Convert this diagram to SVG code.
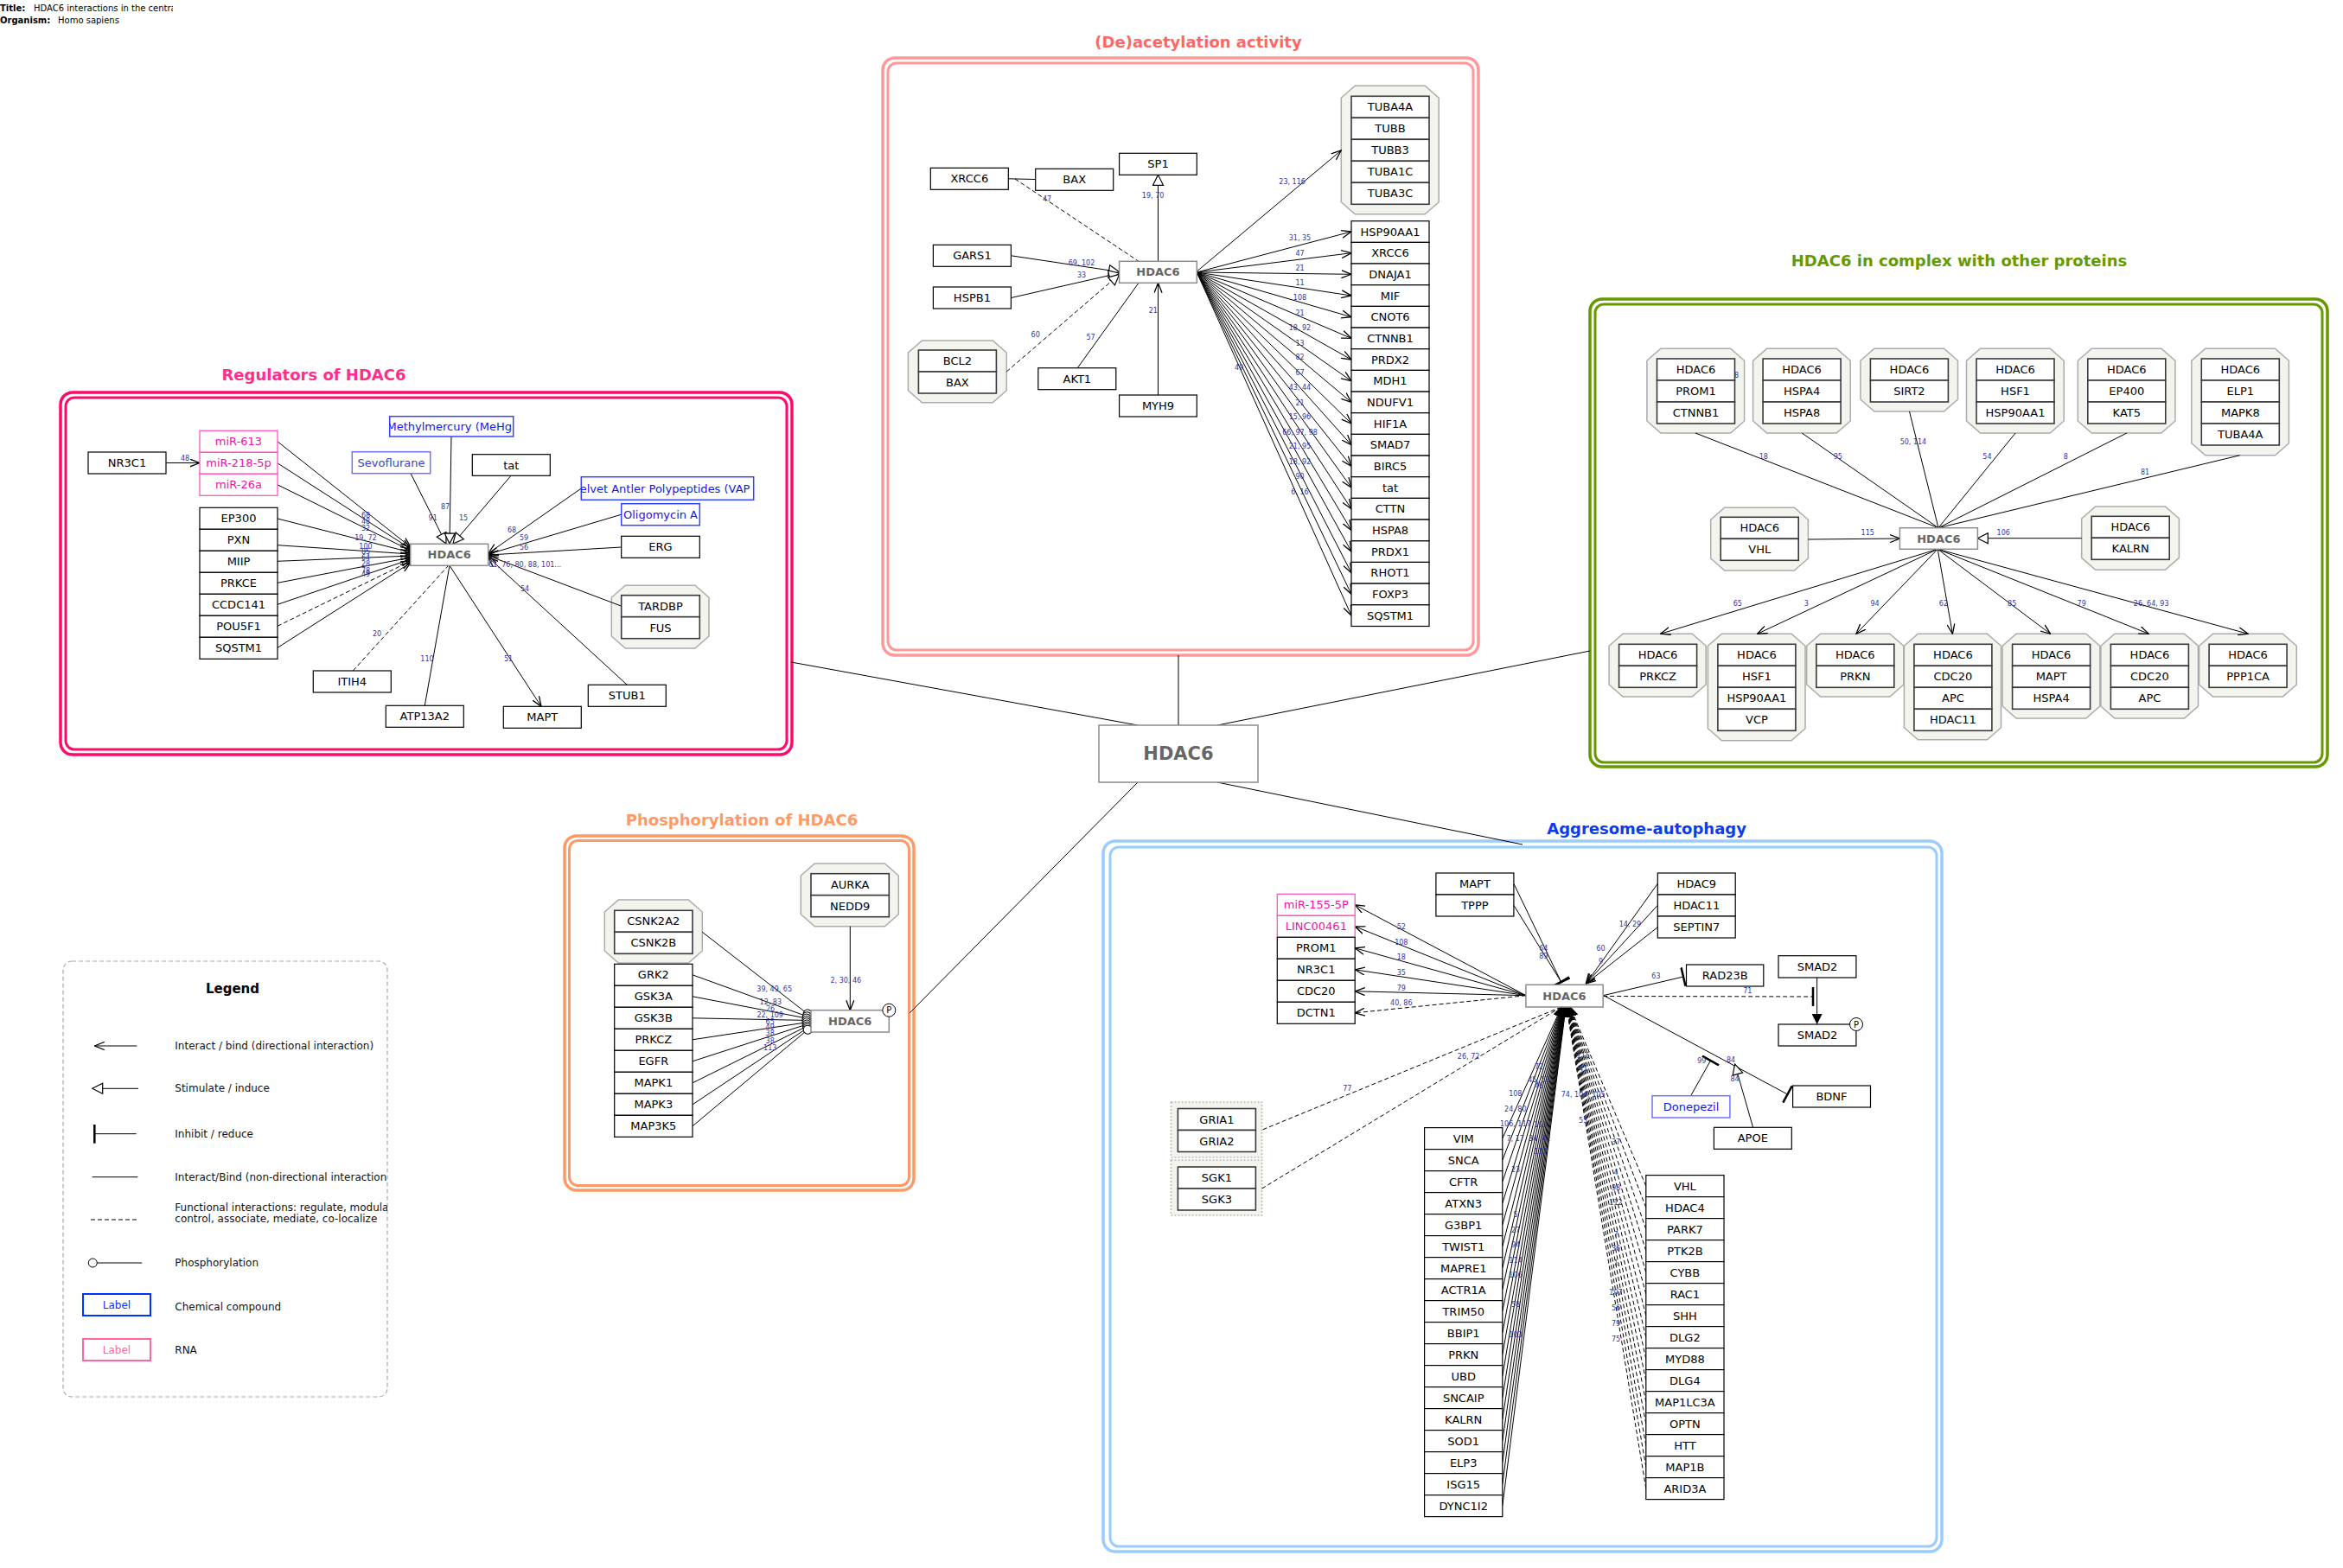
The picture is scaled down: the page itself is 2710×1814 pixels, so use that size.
<svg xmlns="http://www.w3.org/2000/svg" width="2710" height="1814" viewBox="0 0 2710 1814">
<defs>
<style>
text{font-family:'DejaVu Sans',sans-serif}
.t{font-size:13px;fill:#000;text-anchor:middle;dominant-baseline:central}
.hb{font-weight:bold;fill:#666}
.lb{font-size:8px;fill:#3535A0;text-anchor:middle;dominant-baseline:central}
.n{fill:#fff;stroke:#000;stroke-width:1.2}
.m{fill:#fff;stroke:#3A3A3A;stroke-width:1.6}
.h{fill:#fff;stroke:#8C8C8C;stroke-width:1.5}
.rna{fill:#fff;stroke:#FF55C4;stroke-width:1.3}
.rt{fill:#EE11A8}
.chem{fill:#fff;stroke:#3344FF;stroke-width:1.5}
.chl{fill:#fff;stroke:#7070FF;stroke-width:1.5}
.ct{fill:#1515E6}
.cl{fill:#4040D0}
.oct{fill:#F4F4EE;stroke:#ABABAB;stroke-width:1.5}
.grp{fill:#F4F4EE;stroke:#BBBBBB;stroke-width:1.5;stroke-dasharray:2,2}
.e{fill:none;stroke:#000;stroke-width:1}
.d{stroke-dasharray:5,3}
.pt{font-size:18px;font-weight:bold;text-anchor:middle}
.lg{font-size:12px;fill:#111;dominant-baseline:central}
.ar{marker-end:url(#arr)}
.st{marker-end:url(#stim)}
.ih{marker-end:url(#inh)}
.ph{marker-end:url(#phos)}
.start{text-anchor:start}
.pp{font-size:10px}
</style>
<marker id="arr" viewBox="0 0 12 10" refX="11.5" refY="5" markerWidth="12" markerHeight="10" markerUnits="userSpaceOnUse" orient="auto"><path d="M0,0.5 L11.5,5 L0,9.5" fill="none" stroke="#000" stroke-width="1.3"/></marker>
<marker id="stim" viewBox="0 0 14 14" refX="13" refY="7" markerWidth="14" markerHeight="14" markerUnits="userSpaceOnUse" orient="auto"><path d="M1,1 L13,7 L1,13 Z" fill="#fff" stroke="#000" stroke-width="1.2"/></marker>
<marker id="inh" viewBox="0 0 4 22" refX="2" refY="11" markerWidth="4" markerHeight="22" markerUnits="userSpaceOnUse" orient="auto"><path d="M2,0 V22" stroke="#000" stroke-width="2.5"/></marker>
<marker id="phos" viewBox="0 0 12 12" refX="11" refY="6" markerWidth="12" markerHeight="12" markerUnits="userSpaceOnUse" orient="auto"><circle cx="6" cy="6" r="5" fill="#fff" stroke="#000" stroke-width="1"/></marker>
<marker id="conv" viewBox="0 0 12 12" refX="12" refY="6" markerWidth="12" markerHeight="12" markerUnits="userSpaceOnUse" orient="auto"><path d="M0,0 L12,6 L0,12 Z" fill="#000"/></marker>
<clipPath id="clipTitle"><rect x="0" y="0" width="200" height="40"/></clipPath>
<clipPath id="clipMeHg"><rect x="450.7" y="481.7" width="143" height="23.3"/></clipPath>
<clipPath id="clipVAP"><rect x="672.3" y="551.7" width="199.4" height="26.6"/></clipPath>
<clipPath id="clipLegend"><rect x="73" y="1112" width="375" height="504"/></clipPath>
</defs>
<rect width="2710" height="1814" fill="#fff"/>

<!-- header -->
<g id="header" clip-path="url(#clipTitle)" font-size="10">
<text x="0" y="13" font-weight="bold">Title:</text>
<text x="39" y="13">HDAC6 interactions in the centra</text>
<text x="0" y="27" font-weight="bold">Organism:</text>
<text x="67" y="27">Homo sapiens</text>
</g>

<!-- panel frames -->
<g id="panels" fill="none">
<g id="panel-regulators">
<rect x="70" y="454" width="846" height="419" rx="14" stroke="#FF0A6A" stroke-width="3.5"/>
<rect x="76" y="460" width="834" height="407" rx="10" stroke="#FF0A6A" stroke-width="3"/>
<text class="pt" x="363" y="440" fill="#FF2D8C">Regulators of HDAC6</text>
</g>
<g id="panel-deacetylation">
<rect x="1021" y="67" width="689" height="691" rx="14" stroke="#FF9999" stroke-width="3.5"/>
<rect x="1027" y="73" width="677" height="679" rx="10" stroke="#FF9999" stroke-width="3"/>
<text class="pt" x="1386" y="55" fill="#FF6666">(De)acetylation activity</text>
</g>
<g id="panel-complex">
<rect x="1839" y="346" width="853" height="541" rx="14" stroke="#669900" stroke-width="3.5"/>
<rect x="1845" y="352" width="841" height="530" rx="10" stroke="#669900" stroke-width="3"/>
<text class="pt" x="2266" y="308" fill="#669900">HDAC6 in complex with other proteins</text>
</g>
<g id="panel-phosphorylation">
<rect x="653" y="967" width="404" height="410" rx="14" stroke="#FF9966" stroke-width="3.5"/>
<rect x="658.5" y="972.5" width="393" height="399" rx="10" stroke="#FF9966" stroke-width="3"/>
<text class="pt" x="858" y="955" fill="#FF9966">Phosphorylation of HDAC6</text>
</g>
<g id="panel-aggresome">
<rect x="1276" y="973" width="970" height="822" rx="14" stroke="#99CCFF" stroke-width="3.5"/>
<rect x="1284" y="980" width="956" height="809" rx="10" stroke="#99CCFF" stroke-width="3"/>
<text class="pt" x="1904.6" y="965" fill="#0A3CF0">Aggresome-autophagy</text>
</g>
</g>

<!-- group backgrounds (complexes) -->
<g id="complexes">
<polygon id="cx-tardbp-fus" class="oct" points="723.3,677.3 804,677.3 820,691.3 820,736 804,750 723.3,750 707.3,736 707.3,691.3"/>
<polygon id="cx-tubulins" class="oct" points="1567.3,99.3 1648.2,99.3 1664.2,113.3 1664.2,233.7 1648.2,247.7 1567.3,247.7 1551.3,233.7 1551.3,113.3"/>
<polygon id="cx-bcl2-bax" class="oct" points="1066.4,394 1148.2,394 1164.2,408 1164.2,451.7 1148.2,465.7 1066.4,465.7 1050.4,451.7 1050.4,408"/>
<polygon id="cx-t1" class="oct" points="1920.9,403.3 2001.6,403.3 2017.6,417.3 2017.6,487 2001.6,501 1920.9,501 1904.9,487 1904.9,417.3"/>
<polygon id="cx-t2" class="oct" points="2043.6,403.3 2124.2,403.3 2140.2,417.3 2140.2,487 2124.2,501 2043.6,501 2027.6,487 2027.6,417.3"/>
<polygon id="cx-t3" class="oct" points="2167.9,403.3 2248.5,403.3 2264.5,417.3 2264.5,462 2248.5,476 2167.9,476 2151.9,462 2151.9,417.3"/>
<polygon id="cx-t4" class="oct" points="2290.5,403.3 2371.2,403.3 2387.2,417.3 2387.2,487 2371.2,501 2290.5,501 2274.5,487 2274.5,417.3"/>
<polygon id="cx-t5" class="oct" points="2419.3,403.3 2499.9,403.3 2515.9,417.3 2515.9,487 2499.9,501 2419.3,501 2403.3,487 2403.3,417.3"/>
<polygon id="cx-t6" class="oct" points="2550.8,403.3 2631.4,403.3 2647.4,417.3 2647.4,512.7 2631.4,526.7 2550.8,526.7 2534.8,512.7 2534.8,417.3"/>
<polygon id="cx-vhl" class="oct" points="1994.7,587.3 2075.4,587.3 2091.4,601.3 2091.4,646 2075.4,660 1994.7,660 1978.7,646 1978.7,601.3"/>
<polygon id="cx-kalrn" class="oct" points="2423.7,586 2504.4,586 2520.4,600 2520.4,645.3 2504.4,659.3 2423.7,659.3 2407.7,645.3 2407.7,600"/>
<polygon id="cx-b1" class="oct" points="1877.1,733.3 1957.2,733.3 1973.2,747.3 1973.2,792 1957.2,806 1877.1,806 1861.1,792 1861.1,747.3"/>
<polygon id="cx-b2" class="oct" points="1991.4,733.3 2072,733.3 2088,747.3 2088,842.7 2072,856.7 1991.4,856.7 1975.4,842.7 1975.4,747.3"/>
<polygon id="cx-b3" class="oct" points="2105.7,733.3 2185.8,733.3 2201.8,747.3 2201.8,792 2185.8,806 2105.7,806 2089.7,792 2089.7,747.3"/>
<polygon id="cx-b4" class="oct" points="2218.4,733.3 2298.5,733.3 2314.5,747.3 2314.5,841.7 2298.5,855.7 2218.4,855.7 2202.4,841.7 2202.4,747.3"/>
<polygon id="cx-b5" class="oct" points="2332.1,733.3 2412.8,733.3 2428.8,747.3 2428.8,817 2412.8,831 2332.1,831 2316.1,817 2316.1,747.3"/>
<polygon id="cx-b6" class="oct" points="2445.9,733.3 2526.5,733.3 2542.5,747.3 2542.5,817 2526.5,831 2445.9,831 2429.9,817 2429.9,747.3"/>
<polygon id="cx-b7" class="oct" points="2559.6,733.3 2640.3,733.3 2656.3,747.3 2656.3,792 2640.3,806 2559.6,806 2543.6,792 2543.6,747.3"/>
<polygon id="cx-csnk2" class="oct" points="715.3,1041 796.3,1041 812.3,1055 812.3,1100 796.3,1114 715.3,1114 699.3,1100 699.3,1055"/>
<polygon id="cx-aurka" class="oct" points="942.3,999 1023.3,999 1039.3,1013 1039.3,1057.7 1023.3,1071.7 942.3,1071.7 926.3,1057.7 926.3,1013"/>
<rect id="grp-gria" class="grp" x="1354.5" y="1275" width="105" height="64"/>
<rect id="grp-sgk" class="grp" x="1354.5" y="1342" width="105" height="64"/>
</g>

<!-- connectors -->
<g id="connectors">
<!-- hub to panels -->
<g id="e-hub">
<path class="e" d="M915,766 L1316,839"/>
<path class="e" d="M1363,758 L1363,839"/>
<path class="e" d="M1839,753 L1408,839"/>
<path class="e" d="M1052,1172 L1316,905"/>
<path class="e" d="M1761,977 L1408,905"/>
</g>
<!-- regulators -->
<g id="e-regulators">
<path class="e ar" d="M192,535.5 L231,535.5"/>
<path class="e ar" d="M321,510.8 L475,633"/>
<path class="e ar" d="M321,535.8 L475,635"/>
<path class="e ar" d="M321,560.8 L475,637"/>
<path class="e ar" d="M321,600 L475,639"/>
<path class="e ar" d="M321,630.7 L475,641"/>
<path class="e ar" d="M321,649.3 L475,643"/>
<path class="e ar" d="M321,674.3 L475,645"/>
<path class="e ar" d="M321,699.3 L475,647"/>
<path class="e d ar" d="M321,724.3 L475,649"/>
<path class="e ar" d="M321,749.3 L475,651"/>
<path class="e st" d="M475,547.7 L516,629"/>
<path class="e st" d="M522,505 L520,629"/>
<path class="e st" d="M591,550.3 L524,629"/>
<path class="e ar" d="M672.3,565 L565,640"/>
<path class="e ar" d="M718.7,595.2 L565,641"/>
<path class="e ar" d="M718.7,633 L565,642"/>
<path class="e ar" d="M718.7,701.2 L565,643"/>
<path class="e ar" d="M725.3,792.3 L565,645"/>
<path class="e ar" d="M520,654.3 L626,817.3"/>
<path class="e" d="M491.3,816.3 L520,654.3"/>
<path class="e d" d="M408.3,776 L518,655"/>
<text class="lb" x="214" y="530">48</text>
<text class="lb" x="423" y="596">68</text>
<text class="lb" x="423" y="603.3">48</text>
<text class="lb" x="423" y="611">32</text>
<text class="lb" x="423" y="622.7">19, 72</text>
<text class="lb" x="423" y="632">100</text>
<text class="lb" x="423" y="638.3">85</text>
<text class="lb" x="423" y="645">64</text>
<text class="lb" x="423" y="652.7">28</text>
<text class="lb" x="423" y="660">78</text>
<text class="lb" x="423" y="664.5">49</text>
<text class="lb" x="500.7" y="599">91</text>
<text class="lb" x="515" y="586">87</text>
<text class="lb" x="536" y="599">15</text>
<text class="lb" x="592" y="613">68</text>
<text class="lb" x="606" y="622">59</text>
<text class="lb" x="606" y="633">56</text>
<text class="lb start" x="565" y="653">61, 76, 80, 88, 101...</text>
<text class="lb" x="607" y="681">54</text>
<text class="lb" x="588" y="762">51</text>
<text class="lb" x="494" y="762">110</text>
<text class="lb" x="436" y="733">20</text>
</g>
<!-- deacetylation -->
<g id="e-deacetylation">
<path class="e" d="M1166.4,206.8 L1197.7,207.5"/>
<path class="e d" d="M1174,207 L1317,302.3"/>
<path class="e st" d="M1339.5,302.3 L1339.5,202.3"/>
<path class="e st" d="M1169.6,295.8 L1294.6,314.5"/>
<path class="e st" d="M1169.6,344.5 L1294.6,316"/>
<path class="e d st" d="M1164.2,430 L1294.6,317.5"/>
<path class="e" d="M1246.3,425.7 L1317,327.3"/>
<path class="e ar" d="M1339.5,457 L1339.5,327.3"/>
<path class="e ar" d="M1384.3,314 L1551.3,174"/>
<path class="e ar" d="M1384.3,315 L1563,268"/>
<path class="e ar" d="M1384.3,315 L1563,292.7"/>
<path class="e ar" d="M1384.3,315 L1563,317.3"/>
<path class="e ar" d="M1384.3,315 L1563,342"/>
<path class="e ar" d="M1384.3,315 L1563,366.7"/>
<path class="e ar" d="M1384.3,315 L1563,391.4"/>
<path class="e ar" d="M1384.3,315 L1563,416"/>
<path class="e ar" d="M1384.3,315 L1563,440.7"/>
<path class="e ar" d="M1384.3,315 L1563,465.4"/>
<path class="e ar" d="M1384.3,315 L1563,490"/>
<path class="e ar" d="M1384.3,315 L1563,514.7"/>
<path class="e ar" d="M1384.3,315 L1563,539.4"/>
<path class="e ar" d="M1384.3,315 L1563,564"/>
<path class="e ar" d="M1384.3,315 L1563,588.7"/>
<path class="e ar" d="M1384.3,315 L1563,613.4"/>
<path class="e ar" d="M1384.3,315 L1563,638.1"/>
<path class="e ar" d="M1384.3,315 L1563,662.7"/>
<path class="e ar" d="M1384.3,315 L1563,687.4"/>
<path class="e ar" d="M1384.3,315 L1563,712.1"/>
<text class="lb" x="1211" y="230">47</text>
<text class="lb" x="1333.6" y="226">19, 70</text>
<text class="lb" x="1251" y="304">69, 102</text>
<text class="lb" x="1251" y="318.3">33</text>
<text class="lb" x="1197.7" y="387">60</text>
<text class="lb" x="1261.5" y="390">57</text>
<text class="lb" x="1333.8" y="359">21</text>
<text class="lb" x="1494.6" y="210">23, 116</text>
<text class="lb" x="1503.5" y="275.7">31, 35</text>
<text class="lb" x="1503.5" y="293.3">47</text>
<text class="lb" x="1503.5" y="310">21</text>
<text class="lb" x="1503.5" y="327.7">11</text>
<text class="lb" x="1503.5" y="344.7">108</text>
<text class="lb" x="1503.5" y="362.3">21</text>
<text class="lb" x="1503.5" y="379">18, 92</text>
<text class="lb" x="1503.5" y="397">13</text>
<text class="lb" x="1503.5" y="413.7">82</text>
<text class="lb" x="1503.5" y="431.3">67</text>
<text class="lb" x="1503.5" y="448">43, 44</text>
<text class="lb" x="1503.5" y="466">21</text>
<text class="lb" x="1503.5" y="482.7">15, 96</text>
<text class="lb" x="1503.5" y="500.3">66, 97, 98</text>
<text class="lb" x="1503.5" y="516.7">21, 95</text>
<text class="lb" x="1503.5" y="534.7">18, 92</text>
<text class="lb" x="1503.5" y="551.7">90</text>
<text class="lb" x="1503.5" y="569.3">6, 16</text>
<text class="lb" x="1433" y="425.3">49</text>
</g>
<!-- complexes -->
<g id="e-complex">
<path class="e" d="M1961,501 L2242,610.7"/>
<path class="e" d="M2084.2,501 L2242,610.7"/>
<path class="e" d="M2208.5,476 L2242,610.7"/>
<path class="e" d="M2331.1,501 L2242,610.7"/>
<path class="e" d="M2459.9,501 L2242,610.7"/>
<path class="e" d="M2590.8,526.7 L2242,610.7"/>
<path class="e ar" d="M2091.4,624 L2197.4,623"/>
<path class="e st" d="M2407.7,622.7 L2287.3,622.7"/>
<path class="e ar" d="M2241.2,635.3 L1920.5,733.3"/>
<path class="e ar" d="M2241.2,635.3 L2032.6,733.3"/>
<path class="e ar" d="M2241.2,635.3 L2146.9,733.3"/>
<path class="e ar" d="M2241.2,635.3 L2258.4,733.3"/>
<path class="e ar" d="M2241.2,635.3 L2371.6,733.3"/>
<path class="e ar" d="M2241.2,635.3 L2485.4,733.3"/>
<path class="e ar" d="M2241.2,635.3 L2600.3,733.3"/>
<text class="lb" x="2008.5" y="434">8</text>
<text class="lb" x="2039.8" y="528.3">18</text>
<text class="lb" x="2125.8" y="528.3">95</text>
<text class="lb" x="2212.9" y="511">50, 114</text>
<text class="lb" x="2298.4" y="528.3">54</text>
<text class="lb" x="2389.4" y="528.3">8</text>
<text class="lb" x="2481" y="546">81</text>
<text class="lb" x="2160.2" y="616.7">115</text>
<text class="lb" x="2317.2" y="616.7">106</text>
<text class="lb" x="2009.8" y="698.3">65</text>
<text class="lb" x="2089.2" y="698.3">3</text>
<text class="lb" x="2168.5" y="698.3">94</text>
<text class="lb" x="2247.9" y="698.3">62</text>
<text class="lb" x="2327.2" y="698.3">85</text>
<text class="lb" x="2407.7" y="698.3">79</text>
<text class="lb" x="2488.2" y="698.3">26, 64, 93</text>
</g>
<!-- phosphorylation -->
<g id="e-phosphorylation">
<path class="e ph" d="M812.3,1078.3 L938,1176"/>
<path class="e ph" d="M801,1127.8 L938,1177.5"/>
<path class="e ph" d="M801,1152.8 L938,1179"/>
<path class="e ph" d="M801,1177.8 L938,1180.5"/>
<path class="e ph" d="M801,1202.8 L938,1182"/>
<path class="e ph" d="M801,1227.8 L938,1183.5"/>
<path class="e ph" d="M801,1252.8 L938,1185"/>
<path class="e ph" d="M801,1277.8 L938,1186.5"/>
<path class="e ph" d="M801,1302.8 L938,1188"/>
<path class="e ar" d="M983.3,1071.7 L983.3,1168.7"/>
<text class="lb" x="895.7" y="1144">39, 49, 65</text>
<text class="lb" x="891.3" y="1159">12, 83</text>
<text class="lb" x="891" y="1167">26</text>
<text class="lb" x="890.7" y="1174">22, 109</text>
<text class="lb" x="890.7" y="1182">65</text>
<text class="lb" x="890.7" y="1188.3">49</text>
<text class="lb" x="890.7" y="1195">38</text>
<text class="lb" x="890.7" y="1204">38</text>
<text class="lb" x="890.7" y="1212">113</text>
<text class="lb" x="978.3" y="1134">2, 30, 46</text>
</g>
<!-- aggresome -->
<g id="e-aggresome">
<path class="e ar" d="M1765,1151.7 L1567.2,1046.8"/>
<path class="e ar" d="M1765,1151.7 L1567.2,1071.8"/>
<path class="e ar" d="M1765,1151.7 L1567.2,1096.8"/>
<path class="e ar" d="M1765,1151.7 L1567.2,1121.8"/>
<path class="e ar" d="M1765,1151.7 L1567.2,1146.8"/>
<path class="e d ar" d="M1765,1151.7 L1567.2,1171.8"/>
<path class="e ih" d="M1750.9,1022.3 L1805.7,1136"/>
<path class="e ih" d="M1750.9,1047.3 L1805.7,1136"/>
<path class="e ar" d="M1917.3,1022.3 L1834.4,1138"/>
<path class="e ar" d="M1917.3,1047.3 L1834.4,1138"/>
<path class="e ar" d="M1917.3,1072.7 L1834.4,1138"/>
<path class="e ih" d="M1854.2,1151.7 L1947,1130"/>
<path class="e d ih" d="M1854.2,1152.5 L2097,1153"/>
<path class="e" style="marker-end:url(#conv)" d="M2101.6,1131 L2101.6,1185"/>
<path class="e ih" d="M1856.7,1152.7 L2067.5,1266"/>
<path class="e ih" d="M1955.6,1267.7 L1978.5,1227"/>
<path class="e st" d="M2027.6,1304.3 L2006.6,1231"/>
<path class="e d" d="M1805.7,1165 L1459.4,1307.3"/>
<path class="e d" d="M1805.7,1165 L1459.6,1375"/>
<path class="e ar" d="M1737.8,1317.1 L1806,1165"/>
<path class="e ar" d="M1737.8,1342.1 L1806.3,1165"/>
<path class="e ar" d="M1737.8,1367.1 L1806.6,1165"/>
<path class="e ar" d="M1737.8,1392.1 L1806.9,1165"/>
<path class="e ar" d="M1737.8,1417.1 L1807.2,1165"/>
<path class="e ar" d="M1737.8,1442.1 L1807.5,1165"/>
<path class="e ar" d="M1737.8,1467.1 L1807.8,1165"/>
<path class="e ar" d="M1737.8,1492.1 L1808.1,1165"/>
<path class="e ar" d="M1737.8,1517.1 L1808.4,1165"/>
<path class="e ar" d="M1737.8,1542.1 L1808.7,1165"/>
<path class="e ar" d="M1737.8,1567.1 L1809,1165"/>
<path class="e ar" d="M1737.8,1592.1 L1809.3,1165"/>
<path class="e ar" d="M1737.8,1617.1 L1809.6,1165"/>
<path class="e ar" d="M1737.8,1642.1 L1809.9,1165"/>
<path class="e ar" d="M1737.8,1667.1 L1810.2,1165"/>
<path class="e ar" d="M1737.8,1692.1 L1810.5,1165"/>
<path class="e ar" d="M1737.8,1717.1 L1810.8,1165"/>
<path class="e ar" d="M1737.8,1742.1 L1811.1,1165"/>
<path class="e d ar" d="M1903.8,1372.1 L1816,1165"/>
<path class="e d ar" d="M1903.8,1397.1 L1815.7,1165"/>
<path class="e d ar" d="M1903.8,1422.1 L1815.4,1165"/>
<path class="e d ar" d="M1903.8,1447.1 L1815.1,1165"/>
<path class="e d ar" d="M1903.8,1472.1 L1814.8,1165"/>
<path class="e d ar" d="M1903.8,1497.1 L1814.5,1165"/>
<path class="e d ar" d="M1903.8,1522.1 L1814.2,1165"/>
<path class="e d ar" d="M1903.8,1547.1 L1813.9,1165"/>
<path class="e d ar" d="M1903.8,1572.1 L1813.6,1165"/>
<path class="e d ar" d="M1903.8,1597.1 L1813.3,1165"/>
<path class="e d ar" d="M1903.8,1622.1 L1813,1165"/>
<path class="e d ar" d="M1903.8,1647.1 L1812.7,1165"/>
<path class="e d ar" d="M1903.8,1672.1 L1812.4,1165"/>
<path class="e d ar" d="M1903.8,1697.1 L1812.1,1165"/>
<path class="e d ar" d="M1903.8,1722.1 L1811.8,1165"/>
<text class="lb" x="1620.8" y="1072.3">52</text>
<text class="lb" x="1620.8" y="1090.3">108</text>
<text class="lb" x="1620.8" y="1107">18</text>
<text class="lb" x="1620.8" y="1125.3">35</text>
<text class="lb" x="1620.8" y="1143">79</text>
<text class="lb" x="1620.8" y="1160">40, 86</text>
<text class="lb" x="1785.3" y="1097.7">64</text>
<text class="lb" x="1785.3" y="1106">89</text>
<text class="lb" x="1885.4" y="1069">14, 29</text>
<text class="lb" x="1851.6" y="1097.7">60</text>
<text class="lb" x="1851.6" y="1112.7">9</text>
<text class="lb" x="1915.4" y="1129">63</text>
<text class="lb" x="2021.3" y="1146">71</text>
<text class="lb" x="1968.3" y="1227.7">99</text>
<text class="lb" x="2002" y="1226.7">84</text>
<text class="lb" x="2006.6" y="1248.3">84</text>
<text class="lb" x="1558.3" y="1259.3">77</text>
<text class="lb" x="1698.6" y="1222.3">26, 72</text>
<text class="lb" x="1780" y="1234">72</text>
<text class="lb" x="1780" y="1249">45, 53</text>
<text class="lb" x="1780" y="1256.7">46</text>
<text class="lb" x="1752.8" y="1265">108</text>
<text class="lb" x="1752.8" y="1283">24, 80</text>
<text class="lb" x="1752.8" y="1300">106, 117</text>
<text class="lb" x="1782" y="1301.8">105</text>
<text class="lb" x="1768" y="1317">7, 17, 34, 42</text>
<text class="lb" x="1782" y="1332.7">117</text>
<text class="lb" x="1753" y="1353.6">23</text>
<text class="lb" x="1753" y="1405.4">5</text>
<text class="lb" x="1753" y="1423.2">27</text>
<text class="lb" x="1753" y="1440">94</text>
<text class="lb" x="1753" y="1458.2">114</text>
<text class="lb" x="1753" y="1475">106</text>
<text class="lb" x="1753" y="1509.6">58</text>
<text class="lb" x="1753" y="1544.6">103</text>
<text class="lb" x="1831.2" y="1221">115</text>
<text class="lb" x="1831.2" y="1236">41</text>
<text class="lb" x="1831.2" y="1266">74, 104, 105</text>
<text class="lb" x="1831.2" y="1296">55</text>
<text class="lb" x="1869" y="1321">37</text>
<text class="lb" x="1869" y="1356">4</text>
<text class="lb" x="1869" y="1374">98</text>
<text class="lb" x="1869" y="1391">112</text>
<text class="lb" x="1869" y="1428.6">7</text>
<text class="lb" x="1869" y="1444.6">36</text>
<text class="lb" x="1869" y="1461.4">1</text>
<text class="lb" x="1869" y="1495.7">107</text>
<text class="lb" x="1869" y="1513.6">56</text>
<text class="lb" x="1869" y="1531">79</text>
<text class="lb" x="1869" y="1549">75</text>
</g>
</g>

<!-- central hub -->
<g id="hub-hdac6">
<rect class="h" x="1271" y="839" width="184" height="66"/>
<text class="t hb" x="1363" y="872" style="font-size:21px">HDAC6</text>
</g>

<!-- regulators nodes -->
<g id="reg-nodes">
<g id="r-nr3c1"><rect class="n" x="102" y="523" width="90" height="25"/><text class="t" x="147" y="535.5">NR3C1</text></g>
<g id="r-mir613"><rect class="rna" x="231" y="498.3" width="90" height="25"/><text class="t rt" x="276" y="510.8">miR-613</text></g>
<g id="r-mir218"><rect class="rna" x="231" y="523.3" width="90" height="25"/><text class="t rt" x="276" y="535.8">miR-218-5p</text></g>
<g id="r-mir26a"><rect class="rna" x="231" y="548.3" width="90" height="25"/><text class="t rt" x="276" y="560.8">miR-26a</text></g>
<g id="r-ep300"><rect class="n" x="231" y="587.3" width="90" height="25"/><text class="t" x="276" y="599.8">EP300</text></g>
<g id="r-pxn"><rect class="n" x="231" y="612.3" width="90" height="25"/><text class="t" x="276" y="624.8">PXN</text></g>
<g id="r-miip"><rect class="n" x="231" y="637.3" width="90" height="25"/><text class="t" x="276" y="649.8">MIIP</text></g>
<g id="r-prkce"><rect class="n" x="231" y="662.3" width="90" height="25"/><text class="t" x="276" y="674.8">PRKCE</text></g>
<g id="r-ccdc141"><rect class="n" x="231" y="687.3" width="90" height="25"/><text class="t" x="276" y="699.8">CCDC141</text></g>
<g id="r-pou5f1"><rect class="n" x="231" y="712.3" width="90" height="25"/><text class="t" x="276" y="724.8">POU5F1</text></g>
<g id="r-sqstm1"><rect class="n" x="231" y="737.3" width="90" height="25"/><text class="t" x="276" y="749.8">SQSTM1</text></g>
<g id="r-sevo"><rect class="chl" x="407.3" y="522.7" width="90.4" height="25"/><text class="t cl" x="452.5" y="535.2">Sevoflurane</text></g>
<g id="r-mehg"><rect class="chem" x="450.7" y="481.7" width="143" height="23.3"/><text class="t ct start" x="447.5" y="493.3" clip-path="url(#clipMeHg)">Methylmercury (MeHg</text></g>
<g id="r-tat"><rect class="n" x="546.3" y="525.7" width="90" height="24.6"/><text class="t" x="591.3" y="538">tat</text></g>
<g id="r-vap"><rect class="chem" x="672.3" y="551.7" width="199.4" height="26.6"/><text class="t ct start" x="662.8" y="565" clip-path="url(#clipVAP)">Velvet Antler Polypeptides (VAP</text></g>
<g id="r-oligo"><rect class="chem" x="718.7" y="582.7" width="90.6" height="25"/><text class="t ct" x="764" y="595.2">Oligomycin A</text></g>
<g id="r-erg"><rect class="n" x="718.7" y="620.3" width="90.6" height="25"/><text class="t" x="764" y="632.8">ERG</text></g>
<g id="r-tardbp"><rect class="m" x="718.7" y="688.7" width="90.6" height="25"/><text class="t" x="764" y="701.2">TARDBP</text></g>
<g id="r-fus"><rect class="m" x="718.7" y="713.7" width="90.6" height="25"/><text class="t" x="764" y="726.2">FUS</text></g>
<g id="r-stub1"><rect class="n" x="680.3" y="792.3" width="90" height="25"/><text class="t" x="725.3" y="804.8">STUB1</text></g>
<g id="r-mapt"><rect class="n" x="582.3" y="817.3" width="90" height="25"/><text class="t" x="627.3" y="829.8">MAPT</text></g>
<g id="r-atp13a2"><rect class="n" x="446.3" y="816.3" width="90" height="25"/><text class="t" x="491.3" y="828.8">ATP13A2</text></g>
<g id="r-itih4"><rect class="n" x="362.3" y="776" width="90" height="25"/><text class="t" x="407.3" y="788.5">ITIH4</text></g>
<g id="r-hdac6"><rect class="h" x="474.7" y="629.3" width="90" height="25"/><text class="t hb" x="519.7" y="641.8">HDAC6</text></g>
</g>

<!-- deacetylation nodes -->
<g id="dea-nodes">
<g id="d-xrcc6"><rect class="n" x="1076.3" y="194.3" width="90" height="25"/><text class="t" x="1121.3" y="206.8">XRCC6</text></g>
<g id="d-bax"><rect class="n" x="1197.7" y="195.3" width="90" height="25"/><text class="t" x="1242.7" y="207.8">BAX</text></g>
<g id="d-sp1"><rect class="n" x="1294.6" y="177.3" width="89.7" height="25"/><text class="t" x="1339.5" y="189.8">SP1</text></g>
<g id="d-gars1"><rect class="n" x="1079.4" y="283.3" width="90" height="25"/><text class="t" x="1124.4" y="295.8">GARS1</text></g>
<g id="d-hspb1"><rect class="n" x="1079.4" y="332" width="90" height="25"/><text class="t" x="1124.4" y="344.5">HSPB1</text></g>
<g id="d-hdac6"><rect class="h" x="1294.6" y="302.3" width="89.7" height="25"/><text class="t hb" x="1339.5" y="314.8">HDAC6</text></g>
<g id="d-akt1"><rect class="n" x="1200.8" y="425.7" width="90" height="25"/><text class="t" x="1245.8" y="438.2">AKT1</text></g>
<g id="d-myh9"><rect class="n" x="1294.6" y="457" width="89.7" height="25"/><text class="t" x="1339.5" y="469.5">MYH9</text></g>
<g id="d-bcl2"><rect class="m" x="1062.4" y="405" width="90" height="25"/><text class="t" x="1107.4" y="417.5">BCL2</text></g>
<g id="d-bax2"><rect class="m" x="1062.4" y="430" width="90" height="25"/><text class="t" x="1107.4" y="442.5">BAX</text></g>
<g id="d-tuba4a"><rect class="m" x="1563" y="111.3" width="90" height="25"/><text class="t" x="1608" y="123.8">TUBA4A</text></g>
<g id="d-tubb"><rect class="m" x="1563" y="136.3" width="90" height="25"/><text class="t" x="1608" y="148.8">TUBB</text></g>
<g id="d-tubb3"><rect class="m" x="1563" y="161.3" width="90" height="25"/><text class="t" x="1608" y="173.8">TUBB3</text></g>
<g id="d-tuba1c"><rect class="m" x="1563" y="186.3" width="90" height="25"/><text class="t" x="1608" y="198.8">TUBA1C</text></g>
<g id="d-tuba3c"><rect class="m" x="1563" y="211.3" width="90" height="25"/><text class="t" x="1608" y="223.8">TUBA3C</text></g>
<g id="d-hsp90aa1"><rect class="n" x="1563" y="255.7" width="90" height="24.7"/><text class="t" x="1608" y="268">HSP90AA1</text></g>
<g id="d-xrcc6b"><rect class="n" x="1563" y="280.4" width="90" height="24.7"/><text class="t" x="1608" y="292.7">XRCC6</text></g>
<g id="d-dnaja1"><rect class="n" x="1563" y="305" width="90" height="24.7"/><text class="t" x="1608" y="317.3">DNAJA1</text></g>
<g id="d-mif"><rect class="n" x="1563" y="329.7" width="90" height="24.7"/><text class="t" x="1608" y="342">MIF</text></g>
<g id="d-cnot6"><rect class="n" x="1563" y="354.4" width="90" height="24.7"/><text class="t" x="1608" y="366.7">CNOT6</text></g>
<g id="d-ctnnb1"><rect class="n" x="1563" y="379.1" width="90" height="24.7"/><text class="t" x="1608" y="391.4">CTNNB1</text></g>
<g id="d-prdx2"><rect class="n" x="1563" y="403.7" width="90" height="24.7"/><text class="t" x="1608" y="416">PRDX2</text></g>
<g id="d-mdh1"><rect class="n" x="1563" y="428.4" width="90" height="24.7"/><text class="t" x="1608" y="440.7">MDH1</text></g>
<g id="d-ndufv1"><rect class="n" x="1563" y="453.1" width="90" height="24.7"/><text class="t" x="1608" y="465.4">NDUFV1</text></g>
<g id="d-hif1a"><rect class="n" x="1563" y="477.7" width="90" height="24.7"/><text class="t" x="1608" y="490">HIF1A</text></g>
<g id="d-smad7"><rect class="n" x="1563" y="502.4" width="90" height="24.7"/><text class="t" x="1608" y="514.7">SMAD7</text></g>
<g id="d-birc5"><rect class="n" x="1563" y="527.1" width="90" height="24.7"/><text class="t" x="1608" y="539.4">BIRC5</text></g>
<g id="d-tat"><rect class="n" x="1563" y="551.7" width="90" height="24.7"/><text class="t" x="1608" y="564">tat</text></g>
<g id="d-cttn"><rect class="n" x="1563" y="576.4" width="90" height="24.7"/><text class="t" x="1608" y="588.7">CTTN</text></g>
<g id="d-hspa8"><rect class="n" x="1563" y="601.1" width="90" height="24.7"/><text class="t" x="1608" y="613.4">HSPA8</text></g>
<g id="d-prdx1"><rect class="n" x="1563" y="625.8" width="90" height="24.7"/><text class="t" x="1608" y="638.1">PRDX1</text></g>
<g id="d-rhot1"><rect class="n" x="1563" y="650.4" width="90" height="24.7"/><text class="t" x="1608" y="662.7">RHOT1</text></g>
<g id="d-foxp3"><rect class="n" x="1563" y="675.1" width="90" height="24.7"/><text class="t" x="1608" y="687.4">FOXP3</text></g>
<g id="d-sqstm1"><rect class="n" x="1563" y="699.8" width="90" height="24.7"/><text class="t" x="1608" y="712.1">SQSTM1</text></g>
</g>

<!-- complex nodes -->
<g id="cpx-nodes">
<g id="c-hdac6"><rect class="h" x="2197.4" y="610.7" width="90" height="24.6"/><text class="t hb" x="2242.4" y="623">HDAC6</text></g>
<g id="c1-hdac6"><rect class="m" x="1916.5" y="415" width="90" height="25"/><text class="t" x="1961.5" y="427.5">HDAC6</text></g>
<g id="c1-prom1"><rect class="m" x="1916.5" y="440" width="90" height="25"/><text class="t" x="1961.5" y="452.5">PROM1</text></g>
<g id="c1-ctnnb1"><rect class="m" x="1916.5" y="465" width="90" height="25"/><text class="t" x="1961.5" y="477.5">CTNNB1</text></g>
<g id="c2-hdac6"><rect class="m" x="2039.1" y="415" width="90" height="25"/><text class="t" x="2084.1" y="427.5">HDAC6</text></g>
<g id="c2-hspa4"><rect class="m" x="2039.1" y="440" width="90" height="25"/><text class="t" x="2084.1" y="452.5">HSPA4</text></g>
<g id="c2-hspa8"><rect class="m" x="2039.1" y="465" width="90" height="25"/><text class="t" x="2084.1" y="477.5">HSPA8</text></g>
<g id="c3-hdac6"><rect class="m" x="2163.4" y="415" width="90" height="25"/><text class="t" x="2208.4" y="427.5">HDAC6</text></g>
<g id="c3-sirt2"><rect class="m" x="2163.4" y="440" width="90" height="25"/><text class="t" x="2208.4" y="452.5">SIRT2</text></g>
<g id="c4-hdac6"><rect class="m" x="2286" y="415" width="90" height="25"/><text class="t" x="2331" y="427.5">HDAC6</text></g>
<g id="c4-hsf1"><rect class="m" x="2286" y="440" width="90" height="25"/><text class="t" x="2331" y="452.5">HSF1</text></g>
<g id="c4-hsp90aa1"><rect class="m" x="2286" y="465" width="90" height="25"/><text class="t" x="2331" y="477.5">HSP90AA1</text></g>
<g id="c5-hdac6"><rect class="m" x="2414.8" y="415" width="90" height="25"/><text class="t" x="2459.8" y="427.5">HDAC6</text></g>
<g id="c5-ep400"><rect class="m" x="2414.8" y="440" width="90" height="25"/><text class="t" x="2459.8" y="452.5">EP400</text></g>
<g id="c5-kat5"><rect class="m" x="2414.8" y="465" width="90" height="25"/><text class="t" x="2459.8" y="477.5">KAT5</text></g>
<g id="c6-hdac6"><rect class="m" x="2546.3" y="415" width="90" height="25"/><text class="t" x="2591.3" y="427.5">HDAC6</text></g>
<g id="c6-elp1"><rect class="m" x="2546.3" y="440" width="90" height="25"/><text class="t" x="2591.3" y="452.5">ELP1</text></g>
<g id="c6-mapk8"><rect class="m" x="2546.3" y="465" width="90" height="25"/><text class="t" x="2591.3" y="477.5">MAPK8</text></g>
<g id="c6-tuba4a"><rect class="m" x="2546.3" y="490" width="90" height="25"/><text class="t" x="2591.3" y="502.5">TUBA4A</text></g>
<g id="cv-hdac6"><rect class="m" x="1990.2" y="598.3" width="90" height="25"/><text class="t" x="2035.2" y="610.8">HDAC6</text></g>
<g id="cv-vhl"><rect class="m" x="1990.2" y="623.3" width="90" height="25"/><text class="t" x="2035.2" y="635.8">VHL</text></g>
<g id="ck-hdac6"><rect class="m" x="2419.2" y="597.3" width="90" height="25"/><text class="t" x="2464.2" y="609.8">HDAC6</text></g>
<g id="ck-kalrn"><rect class="m" x="2419.2" y="622.3" width="90" height="25"/><text class="t" x="2464.2" y="634.8">KALRN</text></g>
<g id="b1-hdac6"><rect class="m" x="1872.6" y="745.3" width="90" height="25"/><text class="t" x="1917.6" y="757.8">HDAC6</text></g>
<g id="b1-prkcz"><rect class="m" x="1872.6" y="770.3" width="90" height="25"/><text class="t" x="1917.6" y="782.8">PRKCZ</text></g>
<g id="b2-hdac6"><rect class="m" x="1986.9" y="745.3" width="90" height="25"/><text class="t" x="2031.9" y="757.8">HDAC6</text></g>
<g id="b2-hsf1"><rect class="m" x="1986.9" y="770.3" width="90" height="25"/><text class="t" x="2031.9" y="782.8">HSF1</text></g>
<g id="b2-hsp90aa1"><rect class="m" x="1986.9" y="795.3" width="90" height="25"/><text class="t" x="2031.9" y="807.8">HSP90AA1</text></g>
<g id="b2-vcp"><rect class="m" x="1986.9" y="820.3" width="90" height="25"/><text class="t" x="2031.9" y="832.8">VCP</text></g>
<g id="b3-hdac6"><rect class="m" x="2100.8" y="745.3" width="90" height="25"/><text class="t" x="2145.8" y="757.8">HDAC6</text></g>
<g id="b3-prkn"><rect class="m" x="2100.8" y="770.3" width="90" height="25"/><text class="t" x="2145.8" y="782.8">PRKN</text></g>
<g id="b4-hdac6"><rect class="m" x="2213.9" y="745.3" width="90" height="25"/><text class="t" x="2258.9" y="757.8">HDAC6</text></g>
<g id="b4-cdc20"><rect class="m" x="2213.9" y="770.3" width="90" height="25"/><text class="t" x="2258.9" y="782.8">CDC20</text></g>
<g id="b4-apc"><rect class="m" x="2213.9" y="795.3" width="90" height="25"/><text class="t" x="2258.9" y="807.8">APC</text></g>
<g id="b4-hdac11"><rect class="m" x="2213.9" y="820.3" width="90" height="25"/><text class="t" x="2258.9" y="832.8">HDAC11</text></g>
<g id="b5-hdac6"><rect class="m" x="2327.6" y="745.3" width="90" height="25"/><text class="t" x="2372.6" y="757.8">HDAC6</text></g>
<g id="b5-mapt"><rect class="m" x="2327.6" y="770.3" width="90" height="25"/><text class="t" x="2372.6" y="782.8">MAPT</text></g>
<g id="b5-hspa4"><rect class="m" x="2327.6" y="795.3" width="90" height="25"/><text class="t" x="2372.6" y="807.8">HSPA4</text></g>
<g id="b6-hdac6"><rect class="m" x="2441.4" y="745.3" width="90" height="25"/><text class="t" x="2486.4" y="757.8">HDAC6</text></g>
<g id="b6-cdc20"><rect class="m" x="2441.4" y="770.3" width="90" height="25"/><text class="t" x="2486.4" y="782.8">CDC20</text></g>
<g id="b6-apc"><rect class="m" x="2441.4" y="795.3" width="90" height="25"/><text class="t" x="2486.4" y="807.8">APC</text></g>
<g id="b7-hdac6"><rect class="m" x="2555.1" y="745.3" width="90" height="25"/><text class="t" x="2600.1" y="757.8">HDAC6</text></g>
<g id="b7-ppp1ca"><rect class="m" x="2555.1" y="770.3" width="90" height="25"/><text class="t" x="2600.1" y="782.8">PPP1CA</text></g>
</g>

<!-- phosphorylation nodes -->
<g id="pho-nodes">
<g id="p-csnk2a2"><rect class="m" x="710.7" y="1053.3" width="90.3" height="25"/><text class="t" x="755.8" y="1065.8">CSNK2A2</text></g>
<g id="p-csnk2b"><rect class="m" x="710.7" y="1078.3" width="90.3" height="25"/><text class="t" x="755.8" y="1090.8">CSNK2B</text></g>
<g id="p-grk2"><rect class="n" x="710.7" y="1115.3" width="90.3" height="25"/><text class="t" x="755.8" y="1127.8">GRK2</text></g>
<g id="p-gsk3a"><rect class="n" x="710.7" y="1140.3" width="90.3" height="25"/><text class="t" x="755.8" y="1152.8">GSK3A</text></g>
<g id="p-gsk3b"><rect class="n" x="710.7" y="1165.3" width="90.3" height="25"/><text class="t" x="755.8" y="1177.8">GSK3B</text></g>
<g id="p-prkcz"><rect class="n" x="710.7" y="1190.3" width="90.3" height="25"/><text class="t" x="755.8" y="1202.8">PRKCZ</text></g>
<g id="p-egfr"><rect class="n" x="710.7" y="1215.3" width="90.3" height="25"/><text class="t" x="755.8" y="1227.8">EGFR</text></g>
<g id="p-mapk1"><rect class="n" x="710.7" y="1240.3" width="90.3" height="25"/><text class="t" x="755.8" y="1252.8">MAPK1</text></g>
<g id="p-mapk3"><rect class="n" x="710.7" y="1265.3" width="90.3" height="25"/><text class="t" x="755.8" y="1277.8">MAPK3</text></g>
<g id="p-map3k5"><rect class="n" x="710.7" y="1290.3" width="90.3" height="25"/><text class="t" x="755.8" y="1302.8">MAP3K5</text></g>
<g id="p-aurka"><rect class="m" x="938" y="1010.7" width="90.3" height="25"/><text class="t" x="983.2" y="1023.2">AURKA</text></g>
<g id="p-nedd9"><rect class="m" x="938" y="1035.7" width="90.3" height="25"/><text class="t" x="983.2" y="1048.2">NEDD9</text></g>
<g id="p-hdac6"><rect class="h" x="938" y="1168.7" width="90.3" height="25.3"/><text class="t hb" x="983.2" y="1181.3">HDAC6</text>
<circle cx="1028.3" cy="1168.7" r="7.5" fill="#fff" stroke="#000" stroke-width="1"/><text class="t pp" x="1028.3" y="1168.7">P</text></g>
</g>

<!-- aggresome nodes -->
<g id="agg-nodes">
<g id="a-mapt"><rect class="n" x="1660.9" y="1010" width="90" height="25"/><text class="t" x="1705.9" y="1022.5">MAPT</text></g>
<g id="a-tppp"><rect class="n" x="1660.9" y="1035" width="90" height="25"/><text class="t" x="1705.9" y="1047.5">TPPP</text></g>
<g id="a-hdac9"><rect class="n" x="1917.3" y="1010" width="89.9" height="25"/><text class="t" x="1962.3" y="1022.5">HDAC9</text></g>
<g id="a-hdac11"><rect class="n" x="1917.3" y="1035" width="89.9" height="25"/><text class="t" x="1962.3" y="1047.5">HDAC11</text></g>
<g id="a-septin7"><rect class="n" x="1917.3" y="1060" width="89.9" height="25"/><text class="t" x="1962.3" y="1072.5">SEPTIN7</text></g>
<g id="a-mir155"><rect class="rna" x="1477.3" y="1034.3" width="89.9" height="25"/><text class="t rt" x="1522.3" y="1046.8">miR-155-5P</text></g>
<g id="a-linc00461"><rect class="rna" x="1477.3" y="1059.3" width="89.9" height="25"/><text class="t rt" x="1522.3" y="1071.8">LINC00461</text></g>
<g id="a-prom1"><rect class="n" x="1477.3" y="1084.3" width="89.9" height="25"/><text class="t" x="1522.3" y="1096.8">PROM1</text></g>
<g id="a-nr3c1"><rect class="n" x="1477.3" y="1109.3" width="89.9" height="25"/><text class="t" x="1522.3" y="1121.8">NR3C1</text></g>
<g id="a-cdc20"><rect class="n" x="1477.3" y="1134.3" width="89.9" height="25"/><text class="t" x="1522.3" y="1146.8">CDC20</text></g>
<g id="a-dctn1"><rect class="n" x="1477.3" y="1159.3" width="89.9" height="25"/><text class="t" x="1522.3" y="1171.8">DCTN1</text></g>
<g id="a-hdac6"><rect class="h" x="1764.9" y="1139.3" width="89.3" height="25.7"/><text class="t hb" x="1809.5" y="1152.2">HDAC6</text></g>
<g id="a-rad23b"><rect class="n" x="1950.5" y="1116" width="89.3" height="25"/><text class="t" x="1995.2" y="1128.5">RAD23B</text></g>
<g id="a-smad2"><rect class="n" x="2057" y="1105.7" width="89.9" height="25.3"/><text class="t" x="2102" y="1118.3">SMAD2</text></g>
<g id="a-smad2p"><rect class="n" x="2057" y="1185" width="89.9" height="25"/><text class="t" x="2102" y="1197.5">SMAD2</text>
<circle cx="2147" cy="1185" r="7.5" fill="#fff" stroke="#000" stroke-width="1"/><text class="t pp" x="2147" y="1185">P</text></g>
<g id="a-donepezil"><rect class="chl" x="1911" y="1267.7" width="89.9" height="25.3"/><text class="t ct" x="1956" y="1280.3">Donepezil</text></g>
<g id="a-bdnf"><rect class="n" x="2073.6" y="1256" width="89.9" height="25"/><text class="t" x="2118.5" y="1268.5">BDNF</text></g>
<g id="a-apoe"><rect class="n" x="1982.4" y="1304.3" width="89.9" height="25"/><text class="t" x="2027.3" y="1316.8">APOE</text></g>
<g id="a-gria1"><rect class="m" x="1362.4" y="1282.5" width="90" height="25"/><text class="t" x="1407.4" y="1295">GRIA1</text></g>
<g id="a-gria2"><rect class="m" x="1362.4" y="1307.5" width="90" height="25"/><text class="t" x="1407.4" y="1320">GRIA2</text></g>
<g id="a-sgk1"><rect class="m" x="1362.4" y="1350" width="90" height="25"/><text class="t" x="1407.4" y="1362.5">SGK1</text></g>
<g id="a-sgk3"><rect class="m" x="1362.4" y="1375" width="90" height="25"/><text class="t" x="1407.4" y="1387.5">SGK3</text></g>
<g id="a-vim"><rect class="n" x="1647.6" y="1304.6" width="90.2" height="25"/><text class="t" x="1692.7" y="1317.1">VIM</text></g>
<g id="a-snca"><rect class="n" x="1647.6" y="1329.6" width="90.2" height="25"/><text class="t" x="1692.7" y="1342.1">SNCA</text></g>
<g id="a-cftr"><rect class="n" x="1647.6" y="1354.6" width="90.2" height="25"/><text class="t" x="1692.7" y="1367.1">CFTR</text></g>
<g id="a-atxn3"><rect class="n" x="1647.6" y="1379.6" width="90.2" height="25"/><text class="t" x="1692.7" y="1392.1">ATXN3</text></g>
<g id="a-g3bp1"><rect class="n" x="1647.6" y="1404.6" width="90.2" height="25"/><text class="t" x="1692.7" y="1417.1">G3BP1</text></g>
<g id="a-twist1"><rect class="n" x="1647.6" y="1429.6" width="90.2" height="25"/><text class="t" x="1692.7" y="1442.1">TWIST1</text></g>
<g id="a-mapre1"><rect class="n" x="1647.6" y="1454.6" width="90.2" height="25"/><text class="t" x="1692.7" y="1467.1">MAPRE1</text></g>
<g id="a-actr1a"><rect class="n" x="1647.6" y="1479.6" width="90.2" height="25"/><text class="t" x="1692.7" y="1492.1">ACTR1A</text></g>
<g id="a-trim50"><rect class="n" x="1647.6" y="1504.6" width="90.2" height="25"/><text class="t" x="1692.7" y="1517.1">TRIM50</text></g>
<g id="a-bbip1"><rect class="n" x="1647.6" y="1529.6" width="90.2" height="25"/><text class="t" x="1692.7" y="1542.1">BBIP1</text></g>
<g id="a-prkn"><rect class="n" x="1647.6" y="1554.6" width="90.2" height="25"/><text class="t" x="1692.7" y="1567.1">PRKN</text></g>
<g id="a-ubd"><rect class="n" x="1647.6" y="1579.6" width="90.2" height="25"/><text class="t" x="1692.7" y="1592.1">UBD</text></g>
<g id="a-sncaip"><rect class="n" x="1647.6" y="1604.6" width="90.2" height="25"/><text class="t" x="1692.7" y="1617.1">SNCAIP</text></g>
<g id="a-kalrn"><rect class="n" x="1647.6" y="1629.6" width="90.2" height="25"/><text class="t" x="1692.7" y="1642.1">KALRN</text></g>
<g id="a-sod1"><rect class="n" x="1647.6" y="1654.6" width="90.2" height="25"/><text class="t" x="1692.7" y="1667.1">SOD1</text></g>
<g id="a-elp3"><rect class="n" x="1647.6" y="1679.6" width="90.2" height="25"/><text class="t" x="1692.7" y="1692.1">ELP3</text></g>
<g id="a-isg15"><rect class="n" x="1647.6" y="1704.6" width="90.2" height="25"/><text class="t" x="1692.7" y="1717.1">ISG15</text></g>
<g id="a-dync1i2"><rect class="n" x="1647.6" y="1729.6" width="90.2" height="25"/><text class="t" x="1692.7" y="1742.1">DYNC1I2</text></g>
<g id="a-vhl"><rect class="n" x="1903.8" y="1359.6" width="90.2" height="25"/><text class="t" x="1948.9" y="1372.1">VHL</text></g>
<g id="a-hdac4"><rect class="n" x="1903.8" y="1384.6" width="90.2" height="25"/><text class="t" x="1948.9" y="1397.1">HDAC4</text></g>
<g id="a-park7"><rect class="n" x="1903.8" y="1409.6" width="90.2" height="25"/><text class="t" x="1948.9" y="1422.1">PARK7</text></g>
<g id="a-ptk2b"><rect class="n" x="1903.8" y="1434.6" width="90.2" height="25"/><text class="t" x="1948.9" y="1447.1">PTK2B</text></g>
<g id="a-cybb"><rect class="n" x="1903.8" y="1459.6" width="90.2" height="25"/><text class="t" x="1948.9" y="1472.1">CYBB</text></g>
<g id="a-rac1"><rect class="n" x="1903.8" y="1484.6" width="90.2" height="25"/><text class="t" x="1948.9" y="1497.1">RAC1</text></g>
<g id="a-shh"><rect class="n" x="1903.8" y="1509.6" width="90.2" height="25"/><text class="t" x="1948.9" y="1522.1">SHH</text></g>
<g id="a-dlg2"><rect class="n" x="1903.8" y="1534.6" width="90.2" height="25"/><text class="t" x="1948.9" y="1547.1">DLG2</text></g>
<g id="a-myd88"><rect class="n" x="1903.8" y="1559.6" width="90.2" height="25"/><text class="t" x="1948.9" y="1572.1">MYD88</text></g>
<g id="a-dlg4"><rect class="n" x="1903.8" y="1584.6" width="90.2" height="25"/><text class="t" x="1948.9" y="1597.1">DLG4</text></g>
<g id="a-map1lc3a"><rect class="n" x="1903.8" y="1609.6" width="90.2" height="25"/><text class="t" x="1948.9" y="1622.1">MAP1LC3A</text></g>
<g id="a-optn"><rect class="n" x="1903.8" y="1634.6" width="90.2" height="25"/><text class="t" x="1948.9" y="1647.1">OPTN</text></g>
<g id="a-htt"><rect class="n" x="1903.8" y="1659.6" width="90.2" height="25"/><text class="t" x="1948.9" y="1672.1">HTT</text></g>
<g id="a-map1b"><rect class="n" x="1903.8" y="1684.6" width="90.2" height="25"/><text class="t" x="1948.9" y="1697.1">MAP1B</text></g>
<g id="a-arid3a"><rect class="n" x="1903.8" y="1709.6" width="90.2" height="25"/><text class="t" x="1948.9" y="1722.1">ARID3A</text></g>
</g>

<!-- legend -->
<g id="legend">
<rect x="73" y="1112" width="375" height="504" rx="10" fill="none" stroke="#AAAAAA" stroke-width="1.2" stroke-dasharray="5,3"/>
<text x="269" y="1149" font-size="15" font-weight="bold" text-anchor="middle">Legend</text>
<path class="e ar" d="M158.3,1210 L109.3,1210"/>
<path class="e st" d="M160,1259.3 L106.7,1259.3"/>
<path class="e ih" d="M157.7,1311.7 L109.3,1311.7"/>
<path class="e" d="M106.7,1361.7 L159.3,1361.7"/>
<path class="e d" d="M105,1411 L158.3,1411"/>
<path class="e" d="M112.3,1461 L164.3,1461"/>
<circle cx="107.3" cy="1461" r="5" fill="#fff" stroke="#000" stroke-width="1"/>
<rect x="96" y="1497" width="78" height="25" fill="#fff" stroke="#0033FF" stroke-width="2"/>
<text class="t" x="135" y="1509.5" style="font-size:12px;fill:#0033FF">Label</text>
<rect x="96" y="1549" width="78" height="25" fill="#fff" stroke="#FF6699" stroke-width="2"/>
<text class="t" x="135" y="1561.5" style="font-size:12px;fill:#FF6699">Label</text>
<g clip-path="url(#clipLegend)">
<text class="lg" x="202.3" y="1210">Interact / bind (directional interaction)</text>
<text class="lg" x="202.3" y="1259.3">Stimulate / induce</text>
<text class="lg" x="202.3" y="1311.7">Inhibit / reduce</text>
<text class="lg" x="202.3" y="1361.7">Interact/Bind (non-directional interaction)</text>
<text class="lg" x="202.3" y="1397">Functional interactions: regulate, modula</text>
<text class="lg" x="202.3" y="1410">control, associate, mediate, co-localize</text>
<text class="lg" x="202.3" y="1461">Phosphorylation</text>
<text class="lg" x="202.3" y="1511.7">Chemical compound</text>
<text class="lg" x="202.3" y="1561.7">RNA</text>
</g>
</g>
</svg>
